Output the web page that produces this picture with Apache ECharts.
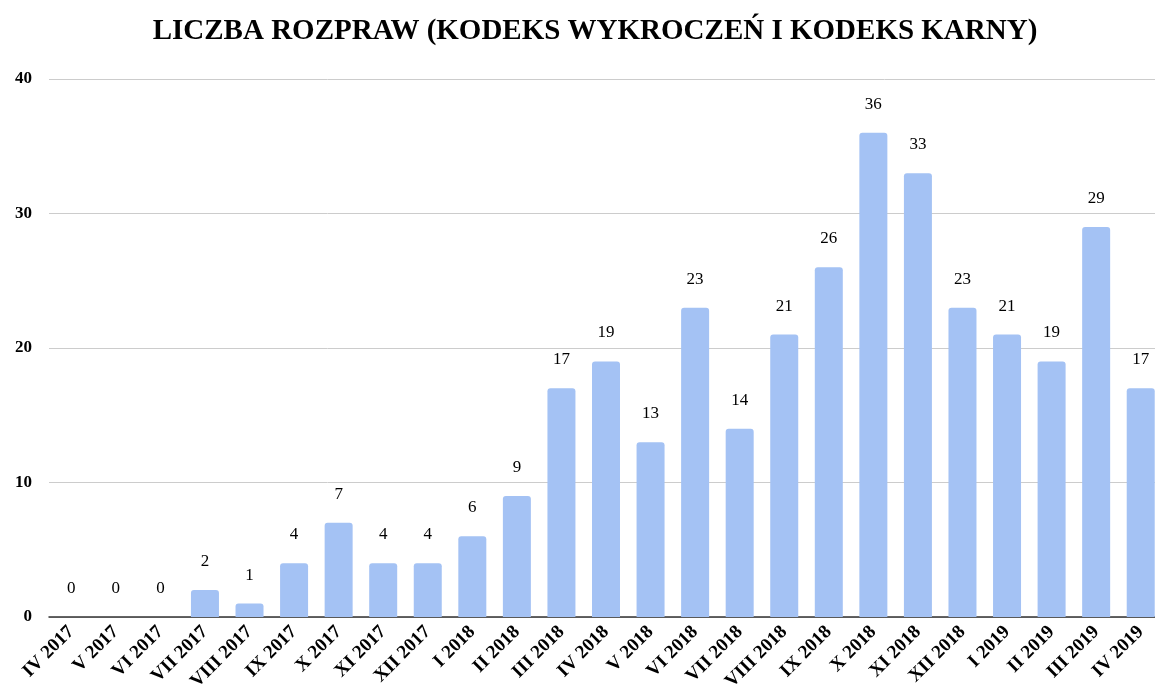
<!DOCTYPE html>
<html>
<head>
<meta charset="utf-8">
<script src="https://cdn.jsdelivr.net/npm/echarts@6/dist/echarts.min.js"></script>
<style>
  html, body { margin: 0; padding: 0; background: #fff; overflow: hidden; }
  #main { width: 1163px; height: 699px; }
</style>
</head>
<body>
<div id="main"></div>
<script>
var months = ['IV 2017', 'V 2017', 'VI 2017', 'VII 2017', 'VIII 2017', 'IX 2017', 'X 2017', 'XI 2017', 'XII 2017',
    'I 2018', 'II 2018', 'III 2018', 'IV 2018', 'V 2018', 'VI 2018', 'VII 2018', 'VIII 2018', 'IX 2018', 'X 2018',
    'XI 2018', 'XII 2018', 'I 2019', 'II 2019', 'III 2019', 'IV 2019'];
var rozprawy = [0, 0, 0, 2, 1, 4, 7, 4, 4, 6, 9, 17, 19, 13, 23, 14, 21, 26, 36, 33, 23, 21, 19, 29, 17];

var serif = '"Liberation Serif", "DejaVu Serif", serif';
// the chart is a bit wider than the window, last bar gets cut like in the original
var myChart = echarts.init(document.getElementById('main'));

var option = {
    animation: false,
    title: {
        text: 'LICZBA ROZPRAW (KODEKS WYKROCZEŃ I KODEKS KARNY)',
        left: 590,
        textAlign: 'center',
        top: 12,
        textStyle: {
            fontFamily: serif,
            fontWeight: 'bold',
            fontSize: 29,
            color: '#000'
        }
    },
    grid: {
        left: 49,
        right: 0,
        top: 79,
        bottom: 82
    },
    xAxis: {
        type: 'category',
        data: months,
        axisTick: { show: false },
        axisLine: { lineStyle: { color: '#333', width: 1.5 } },
        axisLabel: {
            rotate: 45,
            interval: 0,
            margin: 12,
            fontFamily: serif,
            fontWeight: 'bold',
            fontSize: 19,
            color: '#000'
        }
    },
    yAxis: {
        type: 'value',
        min: 0,
        max: 40,
        interval: 10,
        axisLine: { show: false },
        axisTick: { show: false },
        splitLine: { lineStyle: { color: '#cccccc' } },
        axisLabel: {
            margin: 17,
            fontFamily: serif,
            fontWeight: 'bold',
            fontSize: 17,
            color: '#000'
        }
    },
    series: [{
        type: 'bar',
        data: rozprawy,
        barWidth: 28,
        itemStyle: {
            color: '#a4c2f4',
            borderRadius: [3, 3, 0, 0]
        },
        label: {
            show: true,
            position: 'top',
            distance: 20,
            fontFamily: serif,
            fontSize: 17,
            color: '#000'
        }
    }]
};

myChart.setOption(option);
</script>
</body>
</html>
